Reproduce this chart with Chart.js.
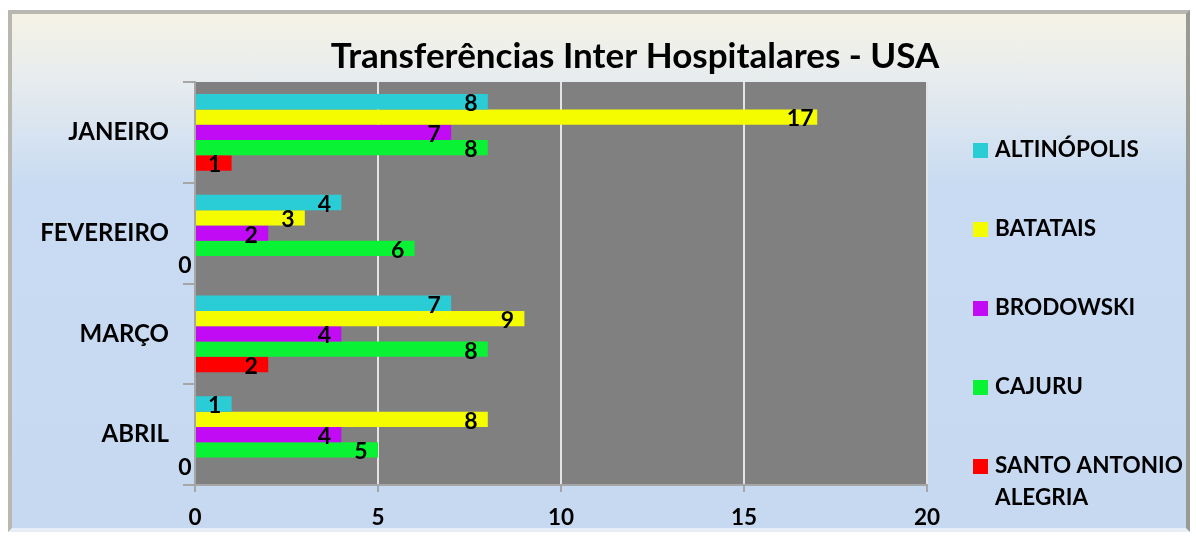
<!DOCTYPE html>
<html>
<head>
<meta charset="utf-8">
<script src="https://cdn.jsdelivr.net/npm/chart.js@4.4.0/dist/chart.umd.min.js"></script>
<style>
  html, body { margin: 0; padding: 0; background: #fff; }
  #frame {
    position: absolute; left: 8px; top: 10px; width: 1182px; height: 522px;
    border: 4px solid #b8b8b0;
    border-right-color: #9a9a94; border-bottom-color: #e8eef6;
    background: linear-gradient(to bottom, #f5f3e6 0px, #e6ebee 70px, #c8dbf2 170px, #c6d9f1 100%);
    box-sizing: border-box;
  }
  #wrap { position: absolute; left: 0; top: 0; width: 1196px; height: 538px; }
</style>
</head>
<body>
<div id="frame"></div>
<div id="wrap"><canvas id="chart" width="1196" height="538"></canvas></div>
<script>
// Meses (categorias) e municípios (séries)
const meses = ['JANEIRO', 'FEVEREIRO', 'MARÇO', 'ABRIL'];
const altinopolis = [8, 4, 7, 1];
const batatais = [17, 3, 9, 8];
const brodowski = [7, 2, 4, 4];
const cajuru = [8, 6, 8, 5];
const santoAntonio = [1, 0, 2, 0];
const xTicks = [0, 5, 10, 15, 20];

const FONT = 'Lato, "Open Sans", sans-serif';

const series = [
    { label: 'ALTINÓPOLIS', data: altinopolis, color: '#2acdd6' },
    { label: 'BATATAIS', data: batatais, color: '#f5fc00' },
    { label: 'BRODOWSKI', data: brodowski, color: '#c10bf5' },
    { label: 'CAJURU', data: cajuru, color: '#0af234' },
    { label: ['SANTO ANTONIO', 'ALEGRIA'], data: santoAntonio, color: '#ff0000' }
];

// fundo cinza da área de plotagem, título, rótulos de dados e legenda
const extras = {
    id: 'extras',
    beforeDraw(chart) {
        const a = chart.chartArea, ctx = chart.ctx;
        ctx.save();
        ctx.fillStyle = '#808080';
        ctx.fillRect(a.left, a.top, a.right - a.left, a.bottom - a.top);
        ctx.restore();
    },
    afterDatasetsDraw(chart) {
        const ctx = chart.ctx;
        ctx.save();
        ctx.font = 'bold 23px ' + FONT;
        ctx.fillStyle = '#000';
        ctx.textAlign = 'center';
        ctx.textBaseline = 'middle';
        chart.data.datasets.forEach((ds, i) => {
            chart.getDatasetMeta(i).data.forEach((bar, j) => {
                const dx = ds.data[j] === 0 ? -10 : -17;
                ctx.fillText(String(ds.data[j]), bar.x + dx, bar.y + 2);
            });
        });
        ctx.restore();
    },
    afterDraw(chart) {
        const ctx = chart.ctx;
        ctx.save();
        ctx.fillStyle = '#000';
        ctx.font = 'bold 35px ' + FONT;
        ctx.textAlign = 'center';
        ctx.textBaseline = 'middle';
        ctx.fillText('Transferências Inter Hospitalares - USA', 635, 57);

        ctx.font = 'bold 22.5px ' + FONT;
        ctx.textAlign = 'left';
        chart.data.datasets.forEach((ds, i) => {
            const y = 150 + i * 79;
            ctx.fillStyle = ds.backgroundColor;
            ctx.fillRect(973, y - 7, 15, 15);
            ctx.fillStyle = '#000';
            const lines = Array.isArray(ds.label) ? ds.label : [ds.label];
            lines.forEach((t, k) => ctx.fillText(t, 995, y + k * 32));
        });
        ctx.restore();
    }
};

new Chart(document.getElementById('chart'), {
    type: 'bar',
    data: {
        labels: meses,
        datasets: series.map(s => ({
            label: s.label,
            data: s.data,
            backgroundColor: s.color,
            borderWidth: 0,
            categoryPercentage: 0.76,
            barPercentage: 1
        }))
    },
    options: {
        indexAxis: 'y',
        responsive: false,
        animation: false,
        layout: { padding: { top: 82, right: 269, left: 0, bottom: 0 } },
        plugins: {
            legend: { display: false },
            title: { display: false },
            tooltip: { enabled: false }
        },
        scales: {
            x: {
                min: 0,
                max: 20,
                afterFit(scale) { scale.height = 53; },
                afterBuildTicks(scale) { scale.ticks = xTicks.map(v => ({ value: v })); },
                border: { color: '#a6a6a6', width: 2 },
                grid: {
                    color: ctx => (ctx.tick && ctx.tick.value === 0) ? '#a6a6a6' : '#e4e4e4',
                    lineWidth: 2,
                    tickLength: 7,
                    tickColor: '#a6a6a6'
                },
                ticks: {
                    color: '#000',
                    padding: 12,
                    font: { family: FONT, size: 22.5, weight: 'bold' }
                }
            },
            y: {
                afterFit(scale) { scale.width = 195; },
                border: { color: '#a6a6a6', width: 2 },
                grid: {
                    offset: true,
                    drawOnChartArea: false,
                    tickLength: 12,
                    tickColor: '#a6a6a6',
                    lineWidth: 2
                },
                ticks: {
                    color: '#000',
                    padding: 14,
                    font: { family: FONT, size: 24, weight: 'bold' }
                }
            }
        }
    },
    plugins: [extras]
});
</script>
</body>
</html>
